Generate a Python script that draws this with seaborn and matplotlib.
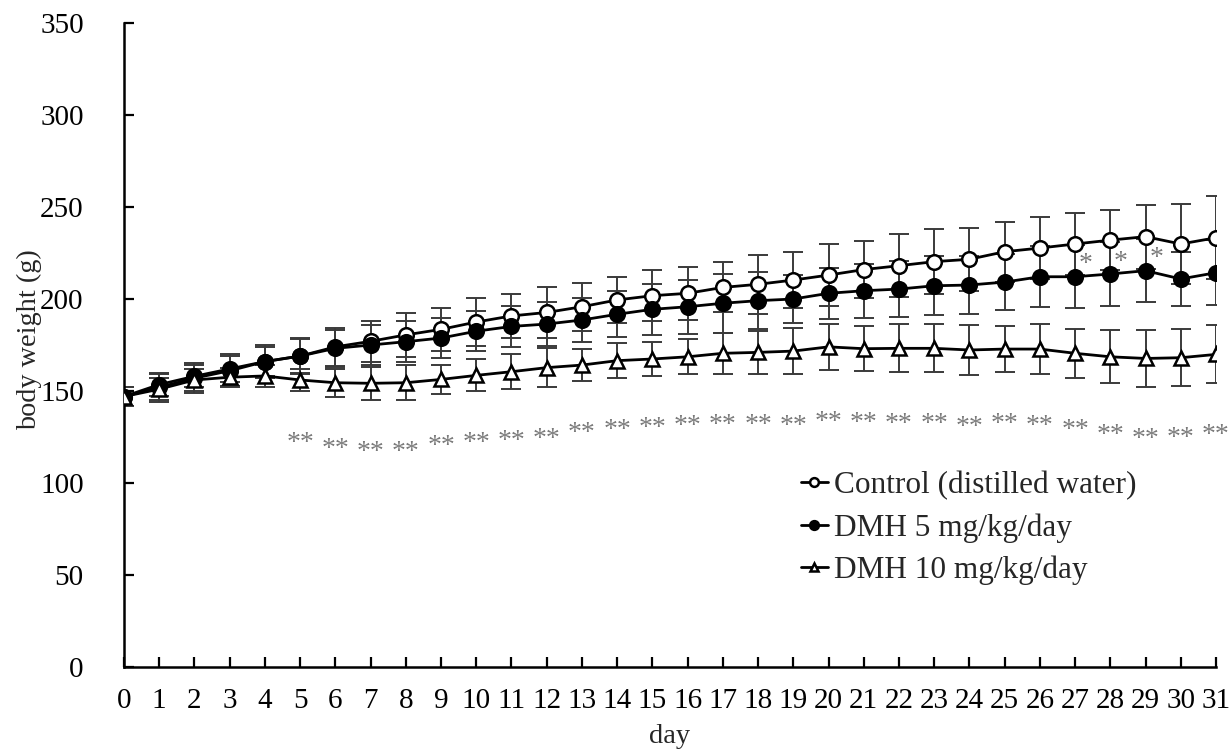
import matplotlib
matplotlib.use("Agg")
import matplotlib.pyplot as plt
import seaborn as sns
import numpy as np
import pandas as pd

# ---------------- data ----------------
days = list(range(32))

control_mean = [147, 152, 157, 161, 166, 169, 174, 177, 180.5, 183.5, 187.5, 190.8, 192.7, 195.8,
                199.5, 201.8, 203.1, 206.3, 208, 210.3, 213, 216, 218.1, 220.3, 221.6, 225.7,
                227.7, 229.9, 232, 233.9, 229.9, 233.3]
control_sd = [5, 8, 8, 9, 9, 10, 10.5, 11, 12, 11.5, 13, 12, 14, 13, 12.5, 14, 14.5, 13.6, 16,
              15.4, 16.7, 15.5, 17, 17.6, 17, 16.3, 17, 17, 16.4, 17.4, 21.6, 22.5]

dmh5_mean = [147, 153.5, 158, 162, 166, 169, 173.2, 175, 176.8, 178.8, 182.5, 185.1, 186.4, 188.6,
             191.7, 194.4, 195.8, 197.7, 199.1, 200, 203.1, 204.5, 205.4, 207.2, 207.6, 209.2,
             212.1, 212.1, 213.6, 215.4, 210.9, 214.3]
dmh5_sd = [5, 6, 6, 7, 8, 9, 10, 11, 11, 11, 11, 11, 12, 12, 12.5, 14, 14.7, 16, 15.5, 13, 14,
           14.7, 15, 16, 15.8, 15, 16.6, 17, 17.4, 17.2, 14.7, 17.6]

dmh10_mean = [147, 151, 156, 157.5, 158.2, 156, 154.5, 154.2, 154.5, 156.3, 158.5, 160.5, 162.7,
              164.1, 166.5, 167.4, 168.6, 170.5, 171, 171.7, 174, 173, 173.2, 173.2, 172.3, 172.8,
              172.8, 170.5, 168.6, 167.7, 168.1, 169.9]
dmh10_sd = [5, 6, 6, 5, 6, 6, 7.6, 9, 9.5, 8, 8.7, 9.5, 10.5, 8.5, 9.5, 9.5, 9.5, 11, 11.5, 12.5,
            12.5, 12.2, 13, 13, 13.5, 12.6, 13.8, 13.2, 14.3, 15.3, 15.5, 15.8]

groups = ["Control (distilled water)", "DMH 5 mg/kg/day", "DMH 10 mg/kg/day"]

# significance marks (day -> label)
sig_dmh10_days = list(range(5, 32))
sig_dmh10_label = "**"
sig_dmh5_days = [27, 28, 29]
sig_dmh5_label = "*"

y_ticks = list(range(0, 351, 50))

# ---------------- plot ----------------
sns.set_theme(style="ticks")
plt.rcParams["font.family"] = ["Liberation Serif", "DejaVu Serif"]

fig = plt.figure(figsize=(12.29, 7.52), dpi=100)
ax = fig.add_axes([0.1009, 0.113, 0.8885, 0.8564])

means = [control_mean, dmh5_mean, dmh10_mean]
sds = [control_sd, dmh5_sd, dmh10_sd]
markers = ["o", "o", "^"]
faces = ["white", "black", "white"]
msizes = [10.5, 10.5, 9.5]

for g, m, s, mk, fc, ms in zip(groups, means, sds, markers, faces, msizes):
    ax.errorbar(days, m, yerr=s, fmt="none", ecolor="#3a3a3a", elinewidth=1.4,
                capsize=7, capthick=1.4, zorder=2)
    df = pd.DataFrame({"day": days, "weight": m})
    sns.lineplot(data=df, x="day", y="weight", ax=ax, color="black", linewidth=2.0,
                 marker=mk, markersize=ms, markerfacecolor=fc, markeredgecolor="black",
                 markeredgewidth=1.8, label=g, zorder=3)

# significance asterisks
for d in sig_dmh10_days:
    yv = dmh10_mean[d] - dmh10_sd[d] - 28.5
    ax.text(d, yv, sig_dmh10_label, ha="center", va="center", fontsize=20,
            color="#7a7a7a")
for d in sig_dmh5_days:
    yv = dmh5_mean[d] + 6.5
    ax.text(d + 0.3, yv, sig_dmh5_label, ha="center", va="center", fontsize=20,
            color="#7a7a7a")

ax.set_xlim(0, 31)
ax.set_ylim(0, 350)
ax.set_xticks(days)
ax.set_yticks(y_ticks)
ax.tick_params(axis="both", direction="in", length=7, width=1.6, labelsize=21,
               colors="black")
ax.tick_params(axis="x", pad=15)
ax.tick_params(axis="y", pad=29)
for side in ["top", "right"]:
    ax.spines[side].set_visible(False)
for side in ["left", "bottom"]:
    ax.spines[side].set_linewidth(1.8)
    ax.spines[side].set_color("black")

ax.set_xlabel("day", fontsize=20.5, labelpad=7)
ax.set_ylabel("body weight (g)", fontsize=20.3)
ax.yaxis.set_label_coords(-0.075, 0.508)
ax.grid(False)

leg = ax.legend(loc="upper left", bbox_to_anchor=(0.62, 0.305), frameon=False,
                fontsize=22.5, markerscale=0.6, handlelength=0.85, handletextpad=0.2,
                labelspacing=0.42, borderaxespad=0, borderpad=0)

fig.savefig("out.png", dpi=100)
